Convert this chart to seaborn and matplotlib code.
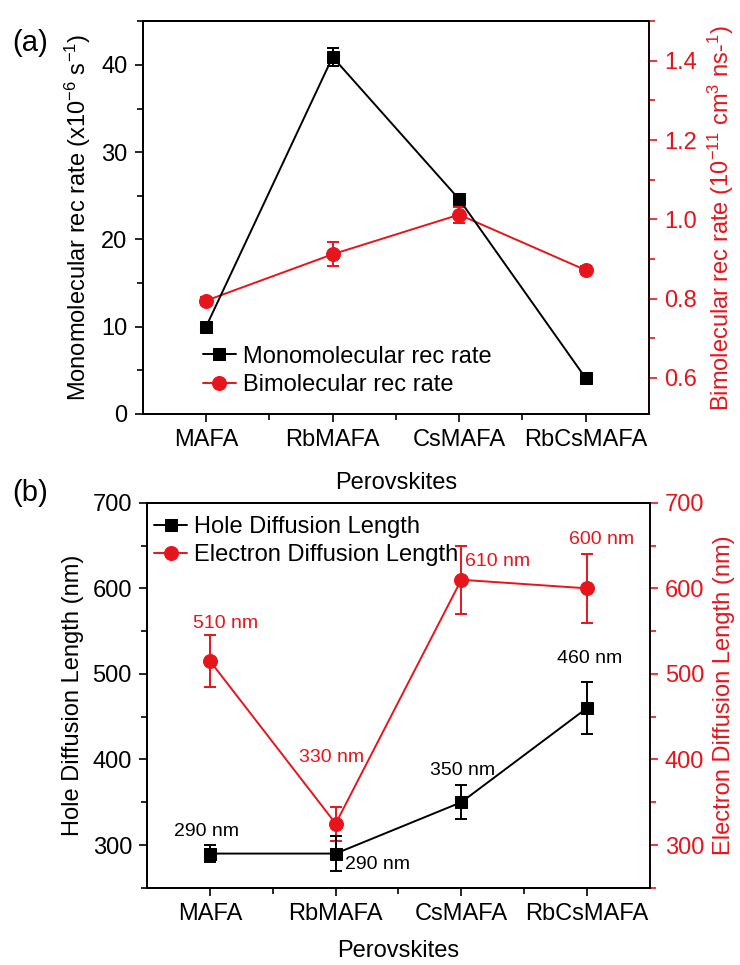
import numpy as np
import seaborn as sns
import matplotlib.pyplot as plt
from matplotlib.ticker import MultipleLocator, FixedLocator

# data
perovskites = ["MAFA", "RbMAFA", "CsMAFA", "RbCsMAFA"]

mono_rate = [10.0, 40.9, 24.6, 4.1]
mono_err = [0.4, 1.0, 0.5, 0.3]
bimo_rate = [0.795, 0.912, 1.012, 0.872]
bimo_err = [0.01, 0.03, 0.02, 0.01]

hole_len = [290, 290, 350, 460]
hole_err = [10, 20, 20, 30]
elec_len = [515, 325, 610, 600]
elec_err = [30, 20, 40, 40]

hole_labels = ["290 nm", "290 nm", "350 nm", "460 nm"]
elec_labels = ["510 nm", "330 nm", "610 nm", "600 nm"]

sns.set_theme(style="ticks")
plt.rcParams["font.family"] = ["Liberation Sans", "DejaVu Sans"]
plt.rcParams["mathtext.fontset"] = "custom"
plt.rcParams["mathtext.rm"] = "Liberation Sans"
plt.rcParams["mathtext.it"] = "Liberation Sans"
plt.rcParams["axes.linewidth"] = 1.3
plt.rcParams["axes.unicode_minus"] = False
for key in ("text.color", "axes.labelcolor", "xtick.color", "ytick.color",
            "axes.edgecolor"):
    plt.rcParams[key] = "black"

RED = "#e8141b"
FS = 17

fig = plt.figure(figsize=(7.4, 9.65), dpi=100)
ax1 = fig.add_axes([0.193, 0.571, 0.684, 0.407])
ax3 = fig.add_axes([0.199, 0.080, 0.679, 0.399])


def style_axes(ax):
    ax.tick_params(axis="both", which="major", direction="out", length=6,
                   width=1.2, labelsize=FS, pad=5)
    ax.tick_params(axis="both", which="minor", direction="out", length=4,
                   width=1.2)


def series(ax, y, err, color, marker, ms, label):
    sns.lineplot(x=perovskites, y=y, ax=ax, color=color, marker=marker,
                 markersize=ms, markeredgecolor=color, linewidth=1.4,
                 label=label, legend=False)
    ax.errorbar(perovskites, y, yerr=err, fmt="none", ecolor=color,
                elinewidth=1.4, capsize=4, capthick=1.4)


# ---- panel (a)
ax2 = ax1.twinx()
series(ax1, mono_rate, mono_err, "black", "s", 8.5, "Monomolecular rec rate")
series(ax2, bimo_rate, bimo_err, RED, "o", 10, "Bimolecular rec rate")
ax1.set_zorder(ax2.get_zorder() + 1)
ax1.patch.set_visible(False)

ax1.set_xlim(-0.5, 3.5)
ax1.set_ylim(0, 45)
ax2.set_ylim(0.509, 1.5)
ax1.yaxis.set_major_locator(MultipleLocator(10))
ax1.yaxis.set_minor_locator(MultipleLocator(5))
ax2.yaxis.set_major_locator(FixedLocator([0.6, 0.8, 1.0, 1.2, 1.4]))
ax2.yaxis.set_minor_locator(FixedLocator([0.7, 0.9, 1.1, 1.3, 1.5]))
ax2.yaxis.set_major_formatter(plt.FormatStrFormatter("%.1f"))
ax1.xaxis.set_minor_locator(FixedLocator([0.5, 1.5, 2.5]))
style_axes(ax1)
style_axes(ax2)
ax2.tick_params(axis="y", which="both", colors=RED, labelcolor=RED)
ax2.spines["right"].set_color(RED)
ax1.set_xlabel("Perovskites", fontsize=FS, labelpad=15)
ax1.set_ylabel("Monomolecular rec rate (x10$^{-6}$ s$^{-1}$)", fontsize=FS,
               labelpad=6)
ax2.set_ylabel("Bimolecular rec rate (10$^{-11}$ cm$^{3}$ ns-$^{1}$)",
               fontsize=FS, color=RED, labelpad=6)

h1, l1 = ax1.get_legend_handles_labels()
h2, l2 = ax2.get_legend_handles_labels()
ax1.legend(h1 + h2, l1 + l2, loc="lower left", bbox_to_anchor=(0.1, 0.022),
           frameon=False, fontsize=FS, handlelength=1.4, handletextpad=0.3,
           labelspacing=0.27, borderaxespad=0)

# ---- panel (b)
ax4 = ax3.twinx()
series(ax3, hole_len, hole_err, "black", "s", 8.5, "Hole Diffusion Length")
series(ax4, elec_len, elec_err, RED, "o", 10, "Electron Diffusion Length")
ax3.set_zorder(ax4.get_zorder() + 1)
ax3.patch.set_visible(False)

ax3.set_xlim(-0.5, 3.5)
for a in (ax3, ax4):
    a.set_ylim(250, 700)
    a.yaxis.set_major_locator(MultipleLocator(100))
    a.yaxis.set_minor_locator(MultipleLocator(50))
    style_axes(a)
ax3.xaxis.set_minor_locator(FixedLocator([0.5, 1.5, 2.5]))
ax4.tick_params(axis="y", which="both", colors=RED, labelcolor=RED)
ax4.spines["right"].set_color(RED)
ax3.set_xlabel("Perovskites", fontsize=FS, labelpad=11)
ax3.set_ylabel("Hole Diffusion Length (nm)", fontsize=FS, labelpad=6)
ax4.set_ylabel("Electron Diffusion Length (nm)", fontsize=FS, color=RED,
               labelpad=6)

h3, l3 = ax3.get_legend_handles_labels()
h4, l4 = ax4.get_legend_handles_labels()
ax3.legend(h3 + h4, l3 + l4, loc="upper left", bbox_to_anchor=(-0.005, 0.99),
           frameon=False, fontsize=FS, handlelength=1.4, handletextpad=0.3,
           labelspacing=0.27, borderaxespad=0)

# value annotations (offsets in pixels from each marker)
hole_offsets = [(-4, 22), (9, -11), (1, 32), (3, 50)]
hole_ha = ["center", "left", "center", "center"]
for i, (txt, off, ha) in enumerate(zip(hole_labels, hole_offsets, hole_ha)):
    ax3.annotate(txt, (i, hole_len[i]), xytext=off, textcoords="offset pixels",
                 ha=ha, va="center", fontsize=14, color="black")
elec_offsets = [(15, 38), (-4, 66), (4, 18), (15, 49)]
elec_ha = ["center", "center", "left", "center"]
for i, (txt, off, ha) in enumerate(zip(elec_labels, elec_offsets, elec_ha)):
    ax4.annotate(txt, (i, elec_len[i]), xytext=off, textcoords="offset pixels",
                 ha=ha, va="center", fontsize=14, color=RED)

fig.text(0.017, 0.955, "(a)", fontsize=21, va="center", ha="left")
fig.text(0.017, 0.489, "(b)", fontsize=21, va="center", ha="left")

fig.savefig("out.png", dpi=100)
